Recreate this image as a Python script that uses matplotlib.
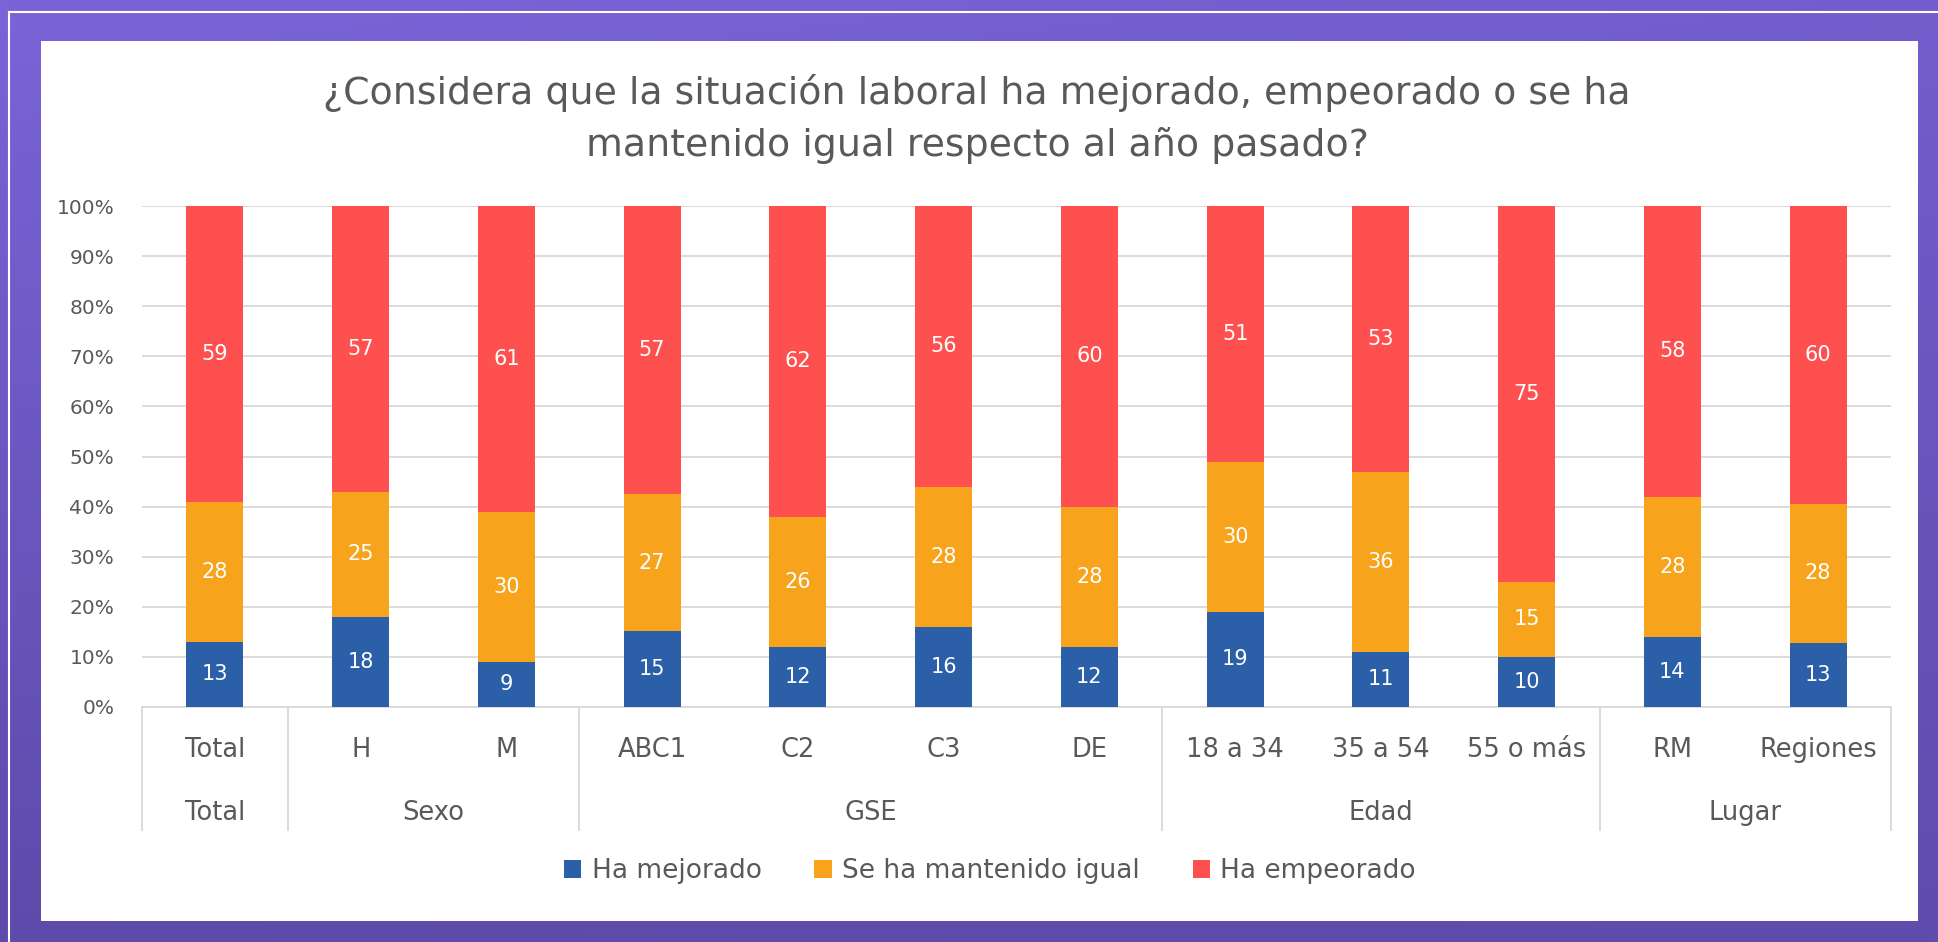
import numpy as np
import matplotlib
matplotlib.use("Agg")
import matplotlib.pyplot as plt
from matplotlib.patches import Rectangle
from matplotlib.lines import Line2D

plt.rcParams['font.family'] = ['DejaVu Sans']

# ---------------- data ----------------
categories = ["Total", "H", "M", "ABC1", "C2", "C3", "DE",
              "18 a 34", "35 a 54", "55 o más", "RM", "Regiones"]
groups = ["Total", "Sexo", "GSE", "Edad", "Lugar"]
group_sizes = [1, 2, 4, 3, 2]
mejorado = [13, 18, 9, 15, 12, 16, 12, 19, 11, 10, 14, 13]
igual = [28, 25, 30, 27, 26, 28, 28, 30, 36, 15, 28, 28]
empeorado = [59, 57, 61, 57, 62, 56, 60, 51, 53, 75, 58, 60]
series_names = ["Ha mejorado", "Se ha mantenido igual", "Ha empeorado"]
title = "¿Considera que la situación laboral ha mejorado, empeorado o se ha\nmantenido igual respecto al año pasado?"
yticks = [0, 10, 20, 30, 40, 50, 60, 70, 80, 90, 100]

colors = ["#2B5FA8", "#F7A31C", "#FF5050"]
gray = "#595959"

W, H = 1938, 942
fig = plt.figure(figsize=(W / 100, H / 100), dpi=100)

# background gradient
bg = fig.add_axes([0, 0, 1, 1], zorder=-10)
yy, xx = np.mgrid[0:1:200j, 0:1:400j]
t = np.clip(0.55 * yy + 0.25 * (1 - xx) * yy + 0.2 * xx, 0, 1)
c0 = np.array([0x7A, 0x64, 0xD8]) / 255
c1 = np.array([0x56, 0x44, 0x9E]) / 255
img = c0[None, None, :] * (1 - t[..., None]) + c1[None, None, :] * t[..., None]
bg.imshow(img, extent=[0, 1, 0, 1], aspect='auto', origin='upper')
bg.set_axis_off()
bg.set_xlim(0, 1)
bg.set_ylim(0, 1)

def fx(px):
    return px / W

def fy(py):
    return 1 - py / H

# thin white frame lines
fig.add_artist(Line2D([fx(9), fx(9)], [fy(12), 0], color="white", lw=1.5))
fig.add_artist(Line2D([fx(9), 1], [fy(12), fy(12)], color="white", lw=1.5))

# white panel
fig.add_artist(Rectangle((fx(41), fy(921)), fx(1918) - fx(41), fy(41) - fy(921),
                         facecolor="white", edgecolor="none", zorder=0))

# axes
ax_left, ax_right, ax_top, ax_bot = 142, 1891, 206, 707
ax = fig.add_axes([fx(ax_left), fy(ax_bot), fx(ax_right) - fx(ax_left), fy(ax_top) - fy(ax_bot)])
ax.set_facecolor("none")

m = np.array(mejorado, float)
ig = np.array(igual, float)
em = np.array(empeorado, float)
tot = m + ig + em
pm, pi, pe = m / tot * 100, ig / tot * 100, em / tot * 100
x = np.arange(len(categories))
bw = 0.39
ax.bar(x, pm, bw, color=colors[0], label=series_names[0], zorder=3)
ax.bar(x, pi, bw, bottom=pm, color=colors[1], label=series_names[1], zorder=3)
ax.bar(x, pe, bw, bottom=pm + pi, color=colors[2], label=series_names[2], zorder=3)

for i in range(len(x)):
    for val, bot, h in [(mejorado[i], 0, pm[i]), (igual[i], pm[i], pi[i]), (empeorado[i], pm[i] + pi[i], pe[i])]:
        ax.text(x[i], bot + h / 2, f"{val}", ha="center", va="center", color="white",
                fontsize=15, zorder=4)

ax.set_xlim(-0.5, len(categories) - 0.5)
ax.set_ylim(0, 100)
ax.set_yticks(yticks)
ax.set_yticklabels([f"{v}%" for v in yticks], color=gray, fontsize=14.5)
ax.tick_params(axis='y', length=0, pad=20)
ax.set_xticks([])
ax.grid(axis='y', color="#D9D9D9", lw=1.3, zorder=0)
for s in ["top", "right", "left"]:
    ax.spines[s].set_visible(False)
ax.spines["bottom"].set_color("#D9D9D9")
ax.spines["bottom"].set_linewidth(1.3)

# category labels and group labels
trans = ax.get_xaxis_transform()
cat_y = -(750 - ax_bot) / (ax_bot - ax_top)
grp_y = -(813 - ax_bot) / (ax_bot - ax_top)
line_y = -(830 - ax_bot) / (ax_bot - ax_top)
for i, c in enumerate(categories):
    ax.text(i, cat_y, c, transform=trans, ha="center", va="center", color=gray,
            fontsize=18.5, clip_on=False)
start = 0
bounds = [-0.5]
for g, n in zip(groups, group_sizes):
    center = start + (n - 1) / 2
    if g == "Edad":
        center = start + 1
    ax.text(center, grp_y, g, transform=trans, ha="center", va="center", color=gray,
            fontsize=18.5, clip_on=False)
    start += n
    bounds.append(start - 0.5)
for b in bounds:
    ax.add_line(Line2D([b, b], [0, line_y], transform=trans, color="#D9D9D9", lw=1.3,
                       clip_on=False))

# title
fig.text(fx(977), fy(119), title, ha="center", va="center", color=gray, fontsize=27.3,
         linespacing=1.5)

# legend
handles, labels = ax.get_legend_handles_labels()
leg = fig.legend(handles, labels, loc="center", bbox_to_anchor=(fx(990), fy(871)), ncol=3,
                 frameon=False, fontsize=19, handlelength=0.65, handleheight=0.65,
                 handletextpad=0.4, columnspacing=2.0)
for t_ in leg.get_texts():
    t_.set_color(gray)

fig.savefig("out.png", dpi=100)
